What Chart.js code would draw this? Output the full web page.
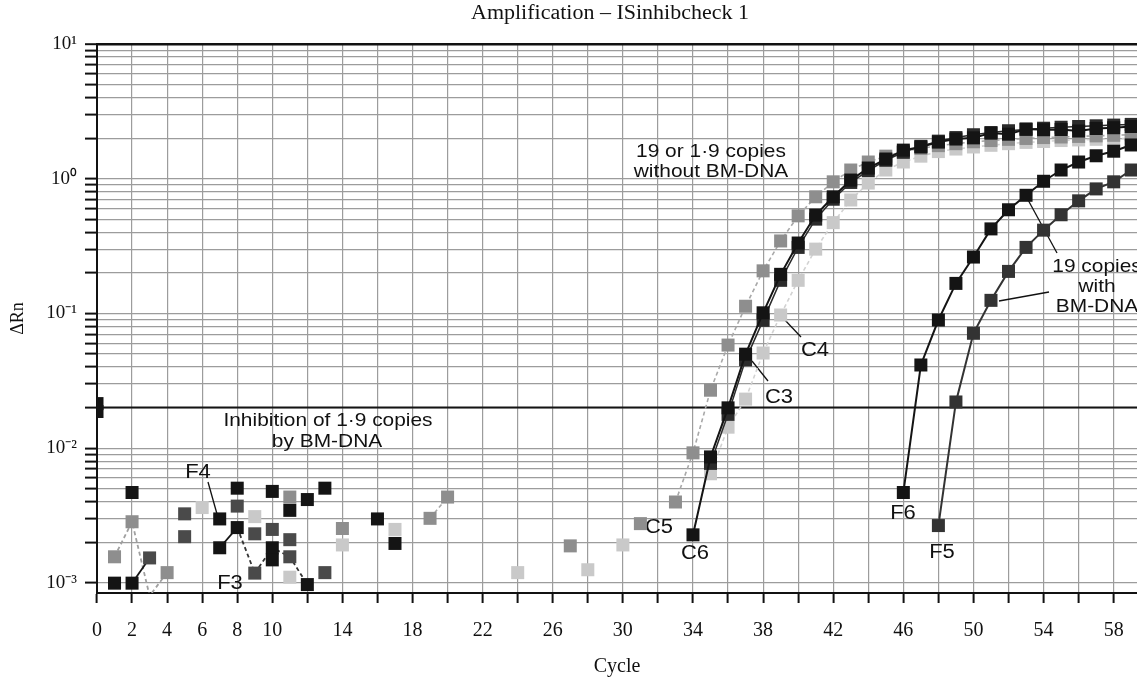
<!DOCTYPE html>
<html>
<head>
<meta charset="utf-8">
<script src="https://cdn.jsdelivr.net/npm/chart.js@4.4.1/dist/chart.umd.min.js"></script>
<style>
  html, body { margin: 0; padding: 0; background: #fff; }
  #wrap { width: 1137px; height: 677px; }
</style>
</head>
<body>
<div id="wrap"><canvas id="ampChart" width="1137" height="677"></canvas></div>
<script>
// axis ticks
const cycleTicks = [0, 2, 4, 6, 8, 10, 12, 14, 16, 18, 20, 22, 24, 26, 28, 30, 32, 34, 36, 38, 40, 42, 44, 46, 48, 50, 52, 54, 56, 58];
const cycleLabels = [0, 2, 4, 6, 8, 10, 14, 18, 22, 26, 30, 34, 38, 42, 46, 50, 54, 58];
const decadeValues = [0.001, 0.01, 0.1, 1, 10];
const decadeLabels = ['10\u207B\u00B3', '10\u207B\u00B2', '10\u207B\u00B9', '10\u2070', '10\u00B9'];
const minorSteps = [1, 2, 3, 4, 5, 6, 7, 8, 9];
const cycleMax = 59.33;
const rnMin = 0.00084;
const rnMax = 10;
const thresholdValue = 0.02;

// amplification curves
const c6Cycles = [34, 35, 36, 37, 38, 39, 40, 41, 42, 43, 44, 45, 46, 47, 48, 49, 50, 51, 52, 53, 54, 55, 56, 57, 58, 59];
const c6Values = [0.00227, 0.0086, 0.0199, 0.0498, 0.101, 0.195, 0.333, 0.537, 0.734, 0.977, 1.2, 1.4, 1.63, 1.72, 1.87, 1.97, 2.01, 2.18, 2.14, 2.34, 2.31, 2.32, 2.26, 2.36, 2.39, 2.44];

const c3Cycles = [35, 36, 37, 38, 39, 40, 41, 42, 43, 44, 45, 46, 47, 48, 49, 50, 51, 52, 53, 54, 55, 56, 57, 58, 59];
const c3Values = [0.0077, 0.0178, 0.0452, 0.0888, 0.176, 0.309, 0.501, 0.704, 0.938, 1.15, 1.37, 1.57, 1.74, 1.9, 2.02, 2.12, 2.2, 2.27, 2.32, 2.37, 2.41, 2.44, 2.47, 2.5, 2.53];

const c5Cycles = [19, 20, 21, 27, 28, 31, 32, 33, 34, 35, 36, 37, 38, 39, 40, 41, 42, 43, 44, 45, 46, 47, 48, 49, 50, 51, 52, 53, 54, 55, 56, 57, 58, 59];
const c5Values = [0.00301, 0.00433, null, 0.00188, null, 0.00275, null, 0.00398, 0.00922, 0.0269, 0.0582, 0.113, 0.207, 0.345, 0.53, 0.734, 0.948, 1.16, 1.33, 1.47, 1.59, 1.68, 1.76, 1.82, 1.88, 1.92, 1.96, 1.99, 2.02, 2.04, 2.06, 2.08, 2.1, 2.12];

const c4Cycles = [24, 25, 28, 29, 30, 31, 35, 36, 37, 38, 39, 40, 41, 42, 43, 44, 45, 46, 47, 48, 49, 50, 51, 52, 53, 54, 55, 56, 57, 58, 59];
const c4Values = [0.00119, null, 0.00125, null, 0.00191, null, 0.00645, 0.0143, 0.0231, 0.0508, 0.0973, 0.176, 0.3, 0.472, 0.695, 0.928, 1.16, 1.33, 1.47, 1.59, 1.66, 1.72, 1.77, 1.82, 1.86, 1.89, 1.92, 1.94, 1.96, 1.98, 2.0];

const f6Cycles = [46, 47, 48, 49, 50, 51, 52, 53, 54, 55, 56, 57, 58, 59];
const f6Values = [0.00468, 0.0414, 0.0893, 0.167, 0.262, 0.424, 0.588, 0.753, 0.957, 1.16, 1.33, 1.48, 1.6, 1.78];

const f5Cycles = [48, 49, 50, 51, 52, 53, 54, 55, 56, 57, 58, 59];
const f5Values = [0.00266, 0.022, 0.0712, 0.125, 0.205, 0.309, 0.415, 0.54, 0.685, 0.84, 0.948, 1.16];

// background noise before the threshold
const blackNoiseCycles = [0, 0, 1, 2, 2, 7, 7, 8, 8, 10, 10, 10, 11, 12, 12, 13, 16, 17];
const blackNoiseValues = [0.0214, 0.0187, 0.000994, 0.000994, 0.00468, 0.00298, 0.00182, 0.00504, 0.00257, 0.00477, 0.00182, 0.00148, 0.00345, 0.00415, 0.00097, 0.00504, 0.00298, 0.00196];

const darkNoiseCycles = [3, 5, 5, 8, 9, 9, 10, 11, 11, 13];
const darkNoiseValues = [0.00153, 0.00325, 0.0022, 0.00371, 0.00231, 0.00118, 0.00249, 0.00209, 0.00156, 0.00119];

const midNoiseCycles = [1, 2, 4, 11, 14];
const midNoiseValues = [0.00156, 0.00284, 0.00119, 0.00433, 0.00253];

const lightNoiseCycles = [6, 9, 11, 14, 17];
const lightNoiseValues = [0.00362, 0.0031, 0.0011, 0.00191, 0.00249];

// short connected runs in the noise
const midRunCycles = [1, 2, 3, 4];
const midRunValues = [0.00156, 0.00284, 0.0008, 0.00119];
const blackRunCycles = [2, 3];
const blackRunValues = [0.000994, 0.00153];
const f4RunCycles = [7, 8];
const f4RunValues = [0.00182, 0.00257];
const f3RunCycles = [8, 9, 10, 11, 12];
const f3RunValues = [0.00257, 0.00118, 0.00182, 0.00156, 0.00097];

const BLACK = '#141414';
const NEAR_BLACK = '#2b2b2b';
const DARK = '#4a4a4a';
const MID = '#8e8e8e';
const LIGHT = '#c9c9c9';

function pts(cycles, values) {
    return cycles.map((c, i) => ({ x: c, y: values[i] }));
}

function curve(cycles, values, color, lineColor, dash, width) {
    return {
        data: pts(cycles, values),
        borderColor: lineColor,
        borderWidth: width,
        borderDash: dash,
        pointStyle: 'rect',
        pointRadius: 9.2,
        pointBorderWidth: 0,
        pointBackgroundColor: color,
        pointBorderColor: color,
        showLine: true,
        spanGaps: false,
        tension: 0
    };
}

function dots(cycles, values, color) {
    const ds = curve(cycles, values, color, color, [], 0);
    ds.showLine = false;
    return ds;
}

function run(cycles, values, color, dash) {
    return {
        data: pts(cycles, values),
        borderColor: color,
        borderWidth: 1.8,
        borderDash: dash,
        pointRadius: 0,
        showLine: true,
        tension: 0
    };
}

// first dataset is drawn on top
const datasets = [
    curve(f6Cycles, f6Values, BLACK, BLACK, [], 2),
    curve(f5Cycles, f5Values, '#333333', '#333333', [], 2),
    curve(c6Cycles, c6Values, BLACK, BLACK, [], 2),
    curve(c3Cycles, c3Values, NEAR_BLACK, NEAR_BLACK, [], 1.5),
    dots(blackNoiseCycles, blackNoiseValues, BLACK),
    dots(darkNoiseCycles, darkNoiseValues, DARK),
    run(f4RunCycles, f4RunValues, BLACK, []),
    run(blackRunCycles, blackRunValues, BLACK, []),
    run(f3RunCycles, f3RunValues, '#333333', [4, 3]),
    curve(c5Cycles, c5Values, MID, '#a8a8a8', [4, 3], 1.6),
    dots(midNoiseCycles, midNoiseValues, MID),
    run(midRunCycles, midRunValues, '#a0a0a0', [4, 3]),
    curve(c4Cycles, c4Values, LIGHT, '#d2d2d2', [4, 3], 1.6),
    dots(lightNoiseCycles, lightNoiseValues, LIGHT),
    {
        data: [{ x: 0, y: thresholdValue }, { x: cycleMax, y: thresholdValue }],
        borderColor: BLACK,
        borderWidth: 2,
        pointRadius: 0,
        showLine: true
    }
];

const SANS = '"Liberation Sans", Arial, sans-serif';
const SERIF = '"Liberation Serif", "Times New Roman", serif';

function stretchText(ctx, text, x, y, size, family) {
    ctx.save();
    ctx.translate(x, y);
    ctx.scale(1.1, 1);
    ctx.font = size + 'px ' + family;
    ctx.fillStyle = '#111';
    ctx.textAlign = 'center';
    ctx.textBaseline = 'middle';
    ctx.fillText(text, 0, 0);
    ctx.restore();
}

function seg(ctx, x1, y1, x2, y2) {
    ctx.beginPath();
    ctx.moveTo(x1, y1);
    ctx.lineTo(x2, y2);
    ctx.stroke();
}

const annotations = {
    id: 'annotations',
    beforeDatasetsDraw(chart) {
        const ctx = chart.ctx;
        stretchText(ctx, 'Amplification \u2013 ISinhibcheck 1', 610, 14, 20, SERIF);

        stretchText(ctx, '19 or 1\u00B79 copies', 711, 152, 19, SANS);
        stretchText(ctx, 'without BM-DNA', 711, 172, 19, SANS);
        stretchText(ctx, 'Inhibition of 1\u00B79 copies', 328, 421, 19, SANS);
        stretchText(ctx, 'by BM-DNA', 327, 442, 19, SANS);
        stretchText(ctx, '19 copies', 1097, 267, 19, SANS);
        stretchText(ctx, 'with', 1097, 287, 19, SANS);
        stretchText(ctx, 'BM-DNA', 1097, 307, 19, SANS);

        stretchText(ctx, 'F4', 198, 472, 20, SANS);
        stretchText(ctx, 'F3', 230, 583, 20, SANS);
        stretchText(ctx, 'C5', 659, 527, 20, SANS);
        stretchText(ctx, 'C6', 695, 553, 20, SANS);
        stretchText(ctx, 'C3', 779, 397, 20, SANS);
        stretchText(ctx, 'C4', 815, 350, 20, SANS);
        stretchText(ctx, 'F6', 903, 513, 20, SANS);
        stretchText(ctx, 'F5', 942, 552, 20, SANS);

        ctx.save();
        ctx.strokeStyle = '#111';
        ctx.lineWidth = 1.3;
        seg(ctx, 208, 482, 217, 514);
        seg(ctx, 752, 361, 768, 381);
        seg(ctx, 783, 318, 801, 337);
        seg(ctx, 1027, 198, 1057, 253);
        seg(ctx, 999, 301, 1049, 292);
        ctx.restore();
    }
};

new Chart(document.getElementById('ampChart'), {
    type: 'line',
    data: { datasets: datasets },
    options: {
        responsive: false,
        animation: false,
        events: [],
        layout: { autoPadding: false, padding: { top: 44, right: 0, bottom: 0, left: 0 } },
        plugins: {
            legend: { display: false },
            tooltip: { enabled: false }
        },
        scales: {
            x: {
                type: 'linear',
                min: 0,
                max: cycleMax,
                afterBuildTicks: scale => {
                    scale.ticks = cycleTicks.map(v => ({ value: v }));
                },
                afterFit: scale => {
                    scale.height = 84;
                    scale.paddingLeft = 0;
                    scale.paddingRight = 0;
                },
                ticks: {
                    autoSkip: false,
                    maxRotation: 0,
                    padding: 16,
                    color: '#111',
                    font: { family: SERIF, size: 20, lineHeight: 1.2 },
                    callback: v => cycleLabels.includes(v) ? String(v) : ''
                },
                grid: {
                    color: '#9c9c9c',
                    lineWidth: 1.2,
                    tickColor: '#111',
                    tickWidth: 2,
                    tickLength: 10
                },
                border: { color: '#111', width: 2 },
                title: {
                    display: true,
                    text: 'Cycle',
                    color: '#111',
                    font: { family: SERIF, size: 20, lineHeight: 1 },
                    padding: 0
                }
            },
            y: {
                type: 'logarithmic',
                min: rnMin,
                max: rnMax,
                afterBuildTicks: scale => {
                    const ticks = [];
                    decadeValues.forEach(d => {
                        if (d === 10) { ticks.push({ value: d, major: true }); return; }
                        minorSteps.forEach(m => ticks.push({ value: +(m * d).toPrecision(6), major: m === 1 }));
                    });
                    scale.ticks = ticks;
                },
                afterFit: scale => {
                    scale.width = 97;
                    scale.paddingTop = 0;
                    scale.paddingBottom = 0;
                },
                ticks: {
                    autoSkip: false,
                    padding: 8,
                    color: '#111',
                    font: { family: SERIF, size: 19, lineHeight: 1.2 },
                    callback: v => {
                        const i = decadeValues.findIndex(d => Math.abs(d - v) < d * 1e-6);
                        return i >= 0 ? decadeLabels[i] : '';
                    }
                },
                grid: {
                    color: ctx => (ctx.tick && ctx.tick.value === 10) ? '#111' : '#9c9c9c',
                    lineWidth: ctx => (ctx.tick && ctx.tick.value === 10) ? 2.4 : 1.2,
                    tickColor: '#111',
                    tickWidth: 2,
                    tickLength: 12
                },
                border: { color: '#111', width: 2 },
                title: {
                    display: true,
                    text: '\u0394Rn',
                    color: '#111',
                    font: { family: SERIF, size: 18, lineHeight: 1 },
                    padding: { top: 9, bottom: 0 }
                }
            }
        }
    },
    plugins: [annotations]
});
</script>
</body>
</html>
